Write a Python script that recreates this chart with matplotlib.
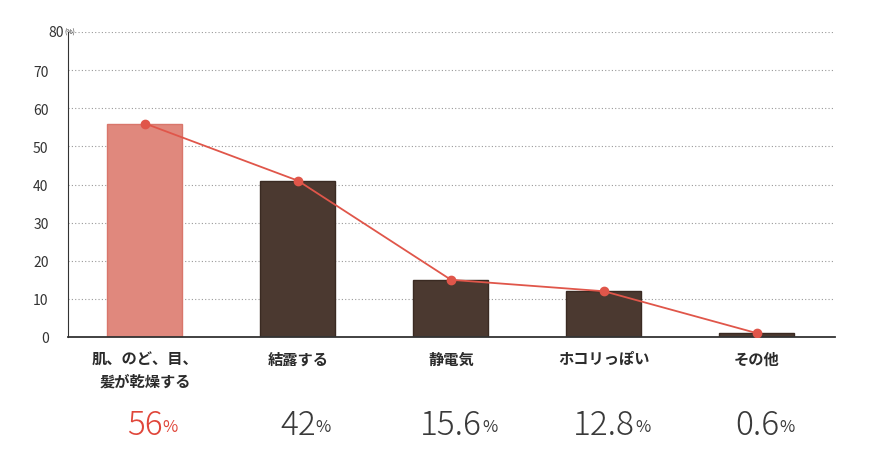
import matplotlib
matplotlib.use("Agg")
import matplotlib.pyplot as plt

plt.rcParams['font.family'] = ['Noto Sans CJK JP', 'DejaVu Sans']

categories = ["肌、のど、目、\n髪が乾燥する", "結露する", "静電気", "ホコリっぽい", "その他"]
bar_values = [56, 41, 15, 12, 1]
pct_labels = ["56", "42", "15.6", "12.8", "0.6"]
yticks = [0, 10, 20, 30, 40, 50, 60, 70, 80]

fig = plt.figure(figsize=(8.7, 4.6), dpi=100)
ax = fig.add_axes([68/870, 1 - 338/460, (835-68)/870, (338-33)/460])

x = list(range(len(categories)))
colors = ["#E0887D"] + ["#4B3930"] * 4
edges = ["#D9766B"] + ["#3A2A22"] * 4
ax.bar(x, bar_values, width=0.49, color=colors, edgecolor=edges, linewidth=1, zorder=2)
ax.plot(x, bar_values, color="#E0564A", lw=1.3, marker="o", ms=6, zorder=3)

ax.set_xlim(-0.503, 4.51)
ax.set_ylim(0, 80)
ax.set_yticks(yticks)
ax.set_yticklabels([str(t) for t in yticks[:-1]] + [""], fontsize=10, color="#333333")
ax.text(-0.53, 80, "80", ha="right", va="center", fontsize=10, color="#333333")
ax.text(-0.525, 80, "(%)", ha="left", va="center", fontsize=5, color="#333333")
ax.set_xticks([])
ax.grid(axis="y", linestyle=(0, (1, 2)), color="#999999", lw=0.8, zorder=0)
for s in ["top", "right"]:
    ax.spines[s].set_visible(False)
ax.spines["left"].set_color("#333333")
ax.spines["bottom"].set_color("#333333")
ax.spines["bottom"].set_linewidth(1.3)
ax.tick_params(axis="y", length=0, pad=14)

for i, (c, p) in enumerate(zip(categories, pct_labels)):
    ax.text(i, -3.5, c, ha="center", va="top", fontsize=11, fontweight="bold",
            color="#2b2b2b", linespacing=1.5)
    col = "#E0463A" if i == 0 else "#3a3a3a"
    t = ax.text(i, -23, p, ha="center", va="center", fontsize=24, color=col,
                fontweight="light")
    ax.annotate("%", xy=(1, 0.2), xycoords=t, fontsize=12, color=col,
                ha="left", va="bottom")

fig.savefig("out.png", dpi=100, facecolor="white")
